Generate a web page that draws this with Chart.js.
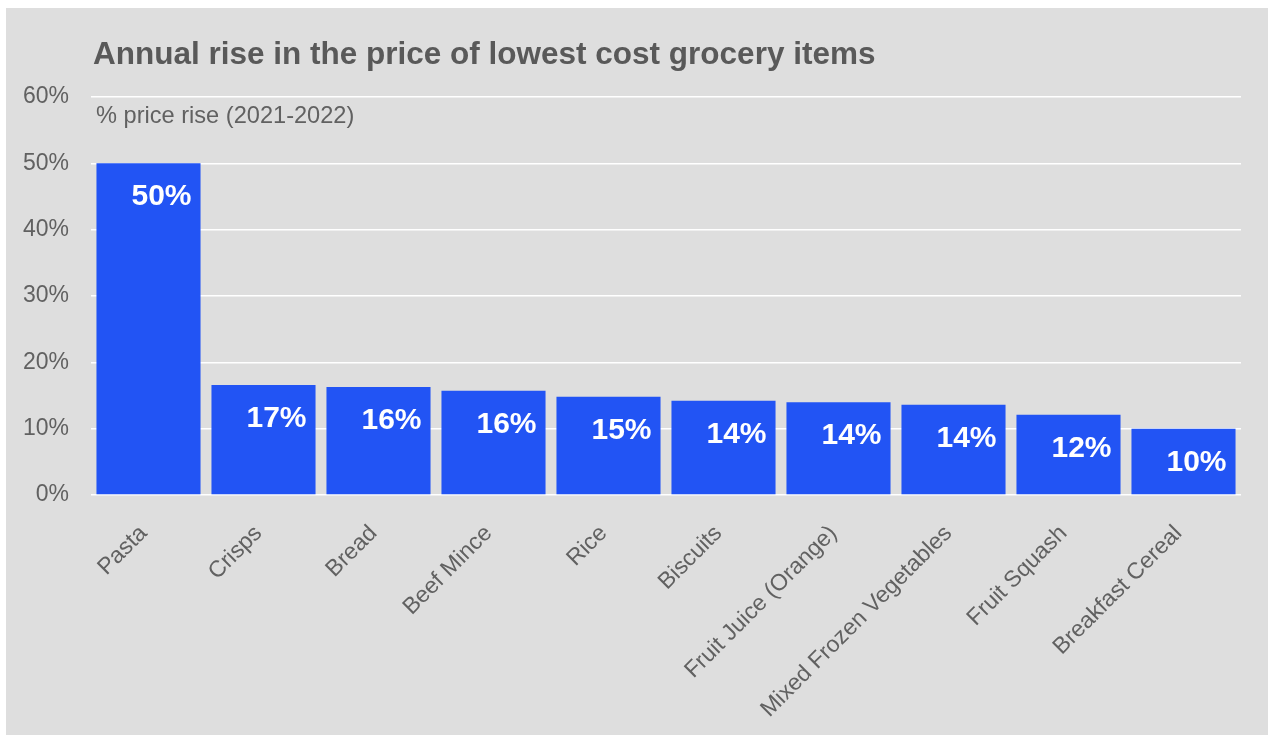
<!DOCTYPE html>
<html>
<head>
<meta charset="utf-8">
<script src="https://cdn.jsdelivr.net/npm/chart.js@4"></script>
<style>
  html, body { margin: 0; padding: 0; background: #ffffff; }
  #chart { display: block; }
</style>
</head>
<body>
<canvas id="chart" width="1268" height="737"></canvas>
<script>
const items = [
  "Pasta",
  "Crisps",
  "Bread",
  "Beef Mince",
  "Rice",
  "Biscuits",
  "Fruit Juice (Orange)",
  "Mixed Frozen Vegetables",
  "Fruit Squash",
  "Breakfast Cereal",
];
const priceRise = [50.0, 16.6, 16.3, 15.7, 14.8, 14.2, 14.0, 13.6, 12.1, 10.0];
const yTicks = [0, 10, 20, 30, 40, 50, 60];

const titleText = "Annual rise in the price of lowest cost grocery items";
const subtitleText = "% price rise (2021-2022)";

const font = "'Liberation Sans', Arial, sans-serif";

// grey panel + title text
const panelPlugin = {
  id: "panel",
  beforeDraw(chart) {
    const ctx = chart.ctx;
    ctx.save();
    ctx.fillStyle = "#ffffff";
    ctx.fillRect(0, 0, chart.width, chart.height);
    ctx.fillStyle = "#dedede";
    ctx.fillRect(6, 8, chart.width - 6, chart.height - 10);
    ctx.restore();
  },
  afterDraw(chart) {
    const ctx = chart.ctx;
    const area = chart.chartArea;
    ctx.save();
    ctx.textAlign = "left";
    ctx.textBaseline = "alphabetic";
    ctx.fillStyle = "#595959";
    ctx.font = "bold 31.5px " + font;
    ctx.fillText(titleText, 93, 64);
    ctx.fillStyle = "#616161";
    ctx.font = "23.6px " + font;
    ctx.fillText(subtitleText, area.left + 5, 123);
    ctx.restore();
  },
};

// white value labels at the top right of each bar
const valueLabels = {
  id: "valueLabels",
  afterDatasetsDraw(chart) {
    const ctx = chart.ctx;
    const meta = chart.getDatasetMeta(0);
    ctx.save();
    ctx.fillStyle = "#ffffff";
    ctx.font = "bold 30px " + font;
    ctx.textAlign = "right";
    ctx.textBaseline = "alphabetic";
    meta.data.forEach((bar, i) => {
      const v = chart.data.datasets[0].data[i];
      ctx.fillText(Math.round(v) + "%", bar.x + bar.width / 2 - 9, bar.y + 42);
    });
    ctx.restore();
  },
};

new Chart(document.getElementById("chart"), {
  type: "bar",
  data: {
    labels: items,
    datasets: [
      {
        data: priceRise,
        backgroundColor: "#2254f4",
        borderWidth: 0,
        barPercentage: 0.905,
        categoryPercentage: 1,
      },
    ],
  },
  options: {
    responsive: false,
    animation: false,
    layout: {
      padding: { top: 97, right: 27, bottom: 0, left: 0 },
    },
    plugins: {
      legend: { display: false },
      tooltip: { enabled: false },
    },
    scales: {
      x: {
        grid: { display: false },
        border: { display: false },
        ticks: {
          color: "#616161",
          font: { family: font, size: 23 },
          maxRotation: 45,
          minRotation: 45,
          padding: 17,
          labelOffset: -5,
          autoSkip: false,
        },
        afterFit(scale) {
          scale.height = 242;
        },
      },
      y: {
        min: 0,
        max: 60,
        afterBuildTicks(scale) {
          scale.ticks = yTicks.map((v) => ({ value: v }));
        },
        grid: {
          color: "#ffffff",
          lineWidth: 1.5,
          drawTicks: false,
        },
        border: { display: false },
        ticks: {
          color: "#616161",
          font: { family: font, size: 23 },
          padding: 22,
          callback: (v) => v + "%",
        },
        afterFit(scale) {
          scale.width = 91;
        },
      },
    },
  },
  plugins: [panelPlugin, valueLabels],
});
</script>
</body>
</html>
